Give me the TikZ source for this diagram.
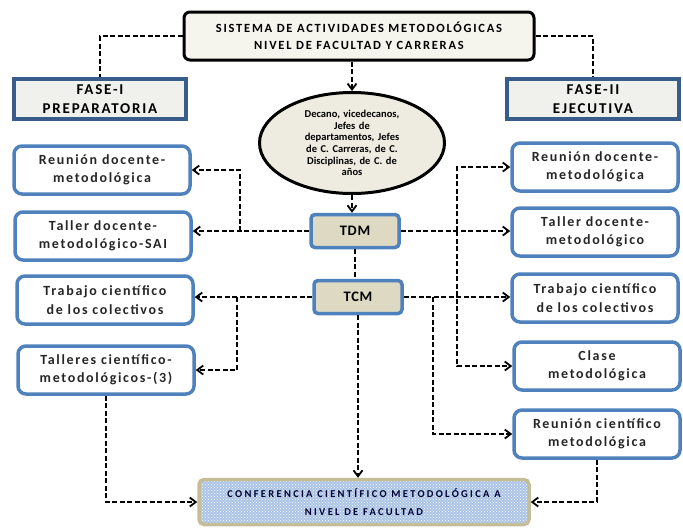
\documentclass[tikz,border=0pt]{standalone}
\usepackage{fontspec}
\setmainfont{Carlito}
\newfontfamily\boxfont{Carlito}
\usetikzlibrary{arrows.meta, calc, patterns, shapes.geometric}

\definecolor{bordeazul}{RGB}{79,129,189}
\definecolor{faseazul}{RGB}{56,93,138}
\definecolor{fasefondo}{RGB}{240,240,236}
\definecolor{beige}{RGB}{238,236,225}
\definecolor{tfondo}{RGB}{221,217,195}
\definecolor{confborde}{RGB}{196,189,151}
\definecolor{confazul}{RGB}{170,196,232}

\tikzset{
  topbox/.style={draw, line width=3pt, rounded corners=6pt, fill=beige!60,
    minimum width=350pt, minimum height=48pt, align=center,
    font=\boxfont\addfontfeature{LetterSpace=14}\bfseries\fontsize{12.5}{17.5}\selectfont},
  fasebox/.style={draw=faseazul, line width=3.5pt, fill=fasefondo,
    minimum width=172pt, minimum height=40pt, align=center,
    font=\boxfont\addfontfeature{LetterSpace=12}\bfseries\fontsize{15}{19}\selectfont},
  actbox/.style={draw=bordeazul, line width=3.5pt, rounded corners=8pt, fill=white,
    minimum width=176pt, minimum height=48pt, align=center, text=black!85,
    font=\boxfont\addfontfeature{LetterSpace=12}\bfseries\fontsize{14}{18.5}\selectfont},
  tbox/.style={draw=bordeazul, line width=3.5pt, rounded corners=4pt, fill=tfondo,
    minimum width=88pt, minimum height=33pt,
    font=\boxfont\addfontfeature{LetterSpace=5}\bfseries\fontsize{14.5}{16}\selectfont},
  conn/.style={line width=1.8pt, dash pattern=on 5pt off 2.5pt},
  arr/.style={-{Straight Barb[length=6pt,width=9pt]}}
}

\begin{document}
\begin{tikzpicture}[x=1pt, y=-1pt]
\useasboundingbox (0,0) rectangle (683,528);

% cabecera y fases
\node[topbox] (top) at (359,36) {SISTEMA DE ACTIVIDADES METODOLÓGICAS\\NIVEL DE FACULTAD Y CARRERAS};
\node[fasebox] (fase1) at (100,99) {FASE-I\\PREPARATORIA};
\node[fasebox] (fase2) at (593,99) {FASE-II\\EJECUTIVA};

\node[ellipse, draw, line width=3pt, fill=beige, minimum width=185pt, minimum height=101pt,
  align=center, text width=110pt, inner sep=0pt,
  font=\boxfont\bfseries\fontsize{10.5}{11.7}\selectfont]
  (ell) at (352,143) {Decano, vicedecanos,\\Jefes de\\departamentos, Jefes\\de C. Carreras, de C.\\Disciplinas, de C. de\\años};

\node[tbox] (tdm) at (355,231) {TDM};
\node[tbox] (tcm) at (358,297) {TCM};

% actividades fase I
\foreach \n/\x/\y/\txt in {1/102/170/{Reunión docente-\\metodológica},
    2/103/236/{Taller docente-\\metodológico-SAI},
    3/105/300/{Trabajo científico\\de los colectivos},
    4/106/370/{Talleres científico-\\metodológicos-(3)}} {
  \node[actbox] (L\n) at (\x,\y) {\txt};
}

% actividades fase II
\foreach \n/\x/\y/\txt in {1/595/167/{Reunión docente-\\metodológica},
    2/595/232/{Taller docente-\\metodológico},
    3/595/298/{Trabajo científico\\de los colectivos},
    4/597/366/{Clase\\metodológica},
    5/597/434/{Reunión científico\\metodológica}} {
  \node[actbox, minimum width=166pt] (R\n) at (\x,\y) {\txt};
}

\node[draw=confborde, line width=3.5pt, rounded corners=5pt, preaction={fill=confazul},
  pattern=crosshatch dots, pattern color=white, minimum width=330pt, minimum height=45pt,
  align=center, text=black!80!blue,
  font=\boxfont\addfontfeature{LetterSpace=22}\bfseries\fontsize{10.5}{18}\selectfont]
  (conf) at (364,502) {CONFERENCIA CIENTÍFICO METODOLÓGICA A\\NIVEL DE FACULTAD};

% conexiones
\draw[conn] (top.west) -| (fase1.north);
\draw[conn] (top.east) -| (fase2.north);
\draw[conn, arr] (ell.north |- top.south) -- (ell.north);
\draw[conn, arr] (ell.south) -- (tdm.north -| ell.south);
\draw[conn] (tdm.south) -- (tdm.south |- tcm.north);

\coordinate (jl1) at (240,231);
\coordinate (jl2) at (237,297);
\coordinate (jr1) at (457,231);
\coordinate (jr2) at (433,297);

\draw[conn, arr] (tdm.west) -- (tdm.west -| L2.east);
\draw[conn, arr] (jl1) |- (L1.east);
\draw[conn, arr] (tcm.west) -- (tcm.west -| L3.east);
\draw[conn, arr] (jl2) |- (L4.east);
\draw[conn, arr] (L4.south) |- (conf.west);

\draw[conn, arr] (tdm.east) -- (tdm.east -| R2.west);
\draw[conn, arr] (jr1) |- (R1.west);
\draw[conn, arr] (jr1) |- (R4.west);
\draw[conn, arr] (tcm.east) -- (tcm.east -| R3.west);
\draw[conn, arr] (jr2) |- (R5.west);
\draw[conn, arr] (tcm.south) -- (tcm.south |- conf.north);
\draw[conn, arr] (R5.south) |- (conf.east);

\end{tikzpicture}
\end{document}
